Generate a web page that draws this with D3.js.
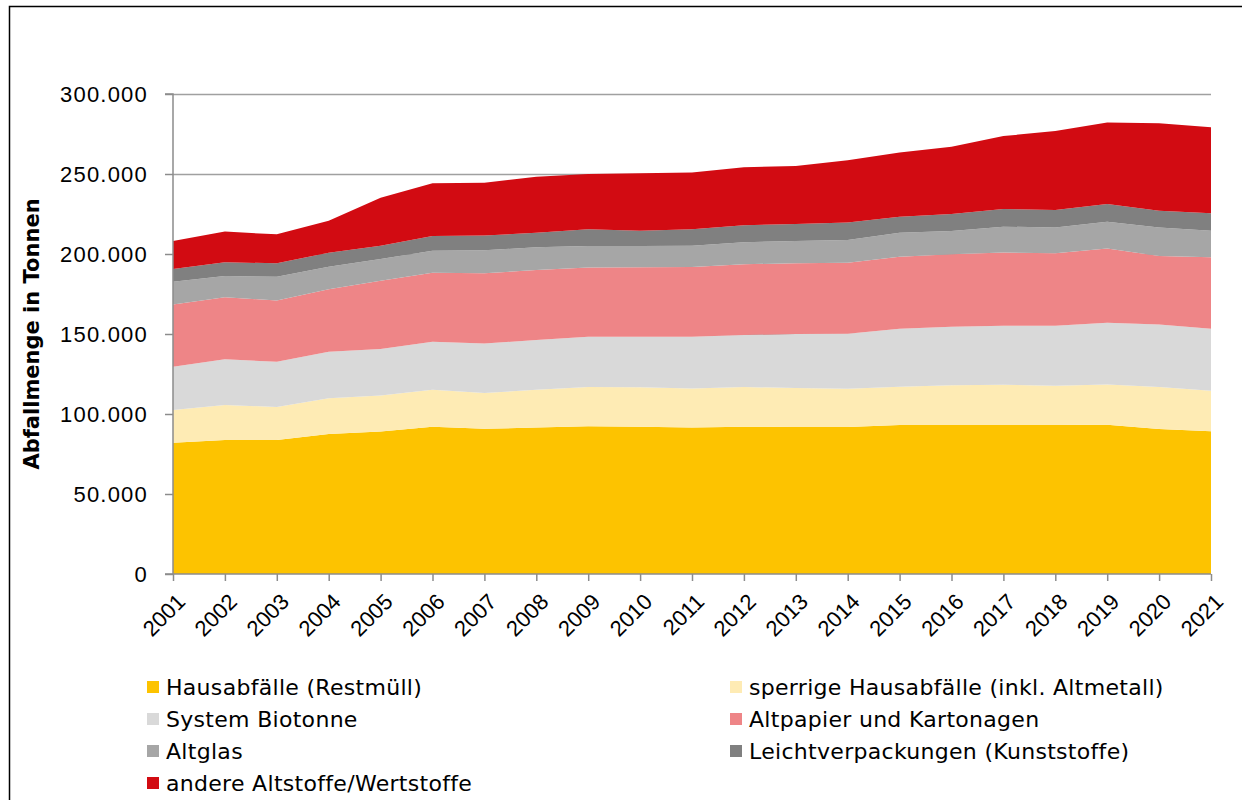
<!DOCTYPE html>
<html>
<head>
<meta charset="utf-8">
<script src="https://cdn.jsdelivr.net/npm/d3@7"></script>
<style>
  body { margin: 0; background: #fff; }
  svg { display: block; font-family: "DejaVu Sans", Tahoma, sans-serif; }
</style>
</head>
<body>
<div id="chart"></div>
<script>
var years = d3.range(2001, 2022);

// Werte in Tonnen
var hausabfaelle = [82100, 83700, 83700, 87500, 89000, 92100, 90800, 91500, 92300, 92100, 91500, 92100, 91900, 91900, 93100, 93100, 93100, 93100, 93300, 90600, 89200];
var sperrig      = [20400, 21900, 20700, 22300, 22500, 23100, 22300, 23700, 24600, 24600, 24500, 24800, 24300, 23900, 24000, 24800, 25200, 24600, 25200, 26300, 25400];
var biotonne     = [27100, 28600, 28300, 29100, 29100, 30000, 30900, 31000, 31400, 31600, 32300, 32500, 33800, 34400, 36200, 36700, 36900, 37500, 38600, 39100, 38700];
var altpapier    = [38900, 38700, 38300, 39000, 42700, 43100, 43900, 43800, 43200, 43400, 43600, 44200, 44200, 44400, 45000, 45200, 45800, 45200, 46400, 42800, 44600];
var altglas      = [14200, 13300, 14800, 14200, 13600, 13700, 14400, 14200, 13500, 13300, 13300, 13700, 13900, 14100, 15000, 14600, 16100, 16100, 16700, 17700, 16700];
var lvp          = [7900, 8600, 8400, 8700, 8300, 9200, 9200, 9100, 10400, 9600, 10200, 10600, 10700, 11000, 10000, 10600, 11000, 11000, 11000, 10600, 10800];
var andere       = [17500, 19200, 18100, 20000, 30000, 33000, 33100, 35000, 34600, 35800, 35600, 36300, 36200, 38900, 40200, 42100, 45600, 49400, 51000, 54600, 53800];

var seriesNames = ["Hausabfälle (Restmüll)", "sperrige Hausabfälle (inkl. Altmetall)", "System Biotonne",
                   "Altpapier und Kartonagen", "Altglas", "Leichtverpackungen (Kunststoffe)",
                   "andere Altstoffe/Wertstoffe"];
var seriesValues = [hausabfaelle, sperrig, biotonne, altpapier, altglas, lvp, andere];
var colors = ["#fdc300", "#feebb4", "#d9d9d9", "#ee8587", "#a6a6a6", "#808080", "#d20b12"];
var yTicks = [0, 50000, 100000, 150000, 200000, 250000, 300000];

var width = 1242, height = 800;
var margin = {left: 173, right: 31, top: 94, bottom: 226};

var svg = d3.select('#chart').append('svg')
  .attr('width', width)
  .attr('height', height);

// Rahmen
svg.append('rect')
  .attr('x', 9.5).attr('y', 6.5)
  .attr('width', 1240).attr('height', 800)
  .attr('fill', 'none')
  .attr('stroke', '#000')
  .attr('stroke-width', 1.5);

var x = d3.scaleLinear()
  .domain([2001, 2021])
  .range([margin.left, width - margin.right]);

var y = d3.scaleLinear()
  .domain([0, 300000])
  .range([height - margin.bottom, margin.top]);

var table = years.map(function(yr, i) {
  var row = {year: yr};
  seriesNames.forEach(function(n, k) { row[n] = seriesValues[k][i]; });
  return row;
});

var stacked = d3.stack().keys(seriesNames)(table);

// Gitternetz
svg.append('g')
  .selectAll('line')
  .data(yTicks.slice(1))
  .join('line')
  .attr('x1', x(2001)).attr('x2', x(2021))
  .attr('y1', function(d) { return Math.round(y(d)) + 0.5; })
  .attr('y2', function(d) { return Math.round(y(d)) + 0.5; })
  .attr('stroke', '#a0a0a0')
  .attr('stroke-width', 1.5);

var area = d3.area()
  .x(function(d) { return x(d.data.year); })
  .y0(function(d) { return y(d[0]); })
  .y1(function(d) { return y(d[1]); });

svg.append('g')
  .selectAll('path')
  .data(stacked)
  .join('path')
  .attr('d', area)
  .attr('fill', function(d, i) { return colors[i]; });

// y-Achse
var yAxis = svg.append('g')
  .attr('transform', 'translate(' + margin.left + ',0)')
  .call(d3.axisLeft(y)
    .tickValues(yTicks)
    .tickSize(8)
    .tickPadding(17)
    .tickFormat(function(d) { return d === 0 ? '0' : d3.format(',')(d).replace(/,/g, '.'); }));
yAxis.select('.domain').attr('stroke', '#8c8c8c').attr('stroke-width', 1.5).attr('d', 'M-8,' + y(0) + 'H0V' + y(300000) + 'H-8');
yAxis.selectAll('.tick line').attr('stroke', '#8c8c8c').attr('stroke-width', 1.5);
yAxis.selectAll('.tick text')
  .attr('fill', '#000')
  .style('font-size', '22px')
  .style('letter-spacing', '1.2px')
  .attr('dy', '0.35em');

// x-Achse
var xAxis = svg.append('g')
  .attr('transform', 'translate(0,' + y(0) + ')')
  .call(d3.axisBottom(x)
    .tickValues(years)
    .tickSize(7)
    .tickFormat(d3.format('d')));
xAxis.select('.domain').attr('stroke', '#8c8c8c').attr('stroke-width', 1.5).attr('d', 'M' + x(2001) + ',0H' + x(2021));
xAxis.selectAll('.tick line').attr('stroke', '#8c8c8c').attr('stroke-width', 1.5);
xAxis.selectAll('.tick text')
  .attr('fill', '#000')
  .style('font-size', '22px')
  .attr('text-anchor', 'end')
  .attr('dy', 0)
  .attr('transform', 'translate(6,22) rotate(-45)');

// Achsentitel
svg.append('text')
  .attr('transform', 'translate(39,334) rotate(-90)')
  .attr('text-anchor', 'middle')
  .style('font-size', '21px')
  .style('font-weight', 'bold')
  .text('Abfallmenge in Tonnen');

// Legende
var legend = svg.append('g').style('font-size', '22px').style('letter-spacing', '0.3px');
seriesNames.forEach(function(n, i) {
  var col = i % 2, row = Math.floor(i / 2);
  var lx = col === 0 ? 147 : 730;
  var ly = 687 + row * 32;
  legend.append('rect')
    .attr('x', lx).attr('y', ly - 6)
    .attr('width', 12).attr('height', 12)
    .attr('fill', colors[i]);
  legend.append('text')
    .attr('x', lx + 19).attr('y', ly)
    .attr('dy', '0.35em')
    .text(n);
});
</script>
</body>
</html>
